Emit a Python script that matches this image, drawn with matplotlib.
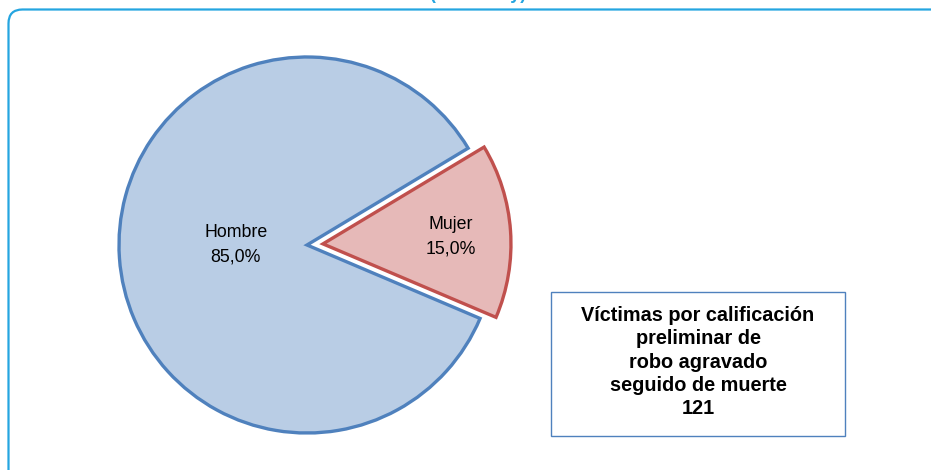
import matplotlib.pyplot as plt
from matplotlib.patches import FancyBboxPatch, Rectangle
import numpy as np

plt.rcParams['font.family'] = ['Liberation Sans', 'DejaVu Sans']

labels = ["Mujer", "Hombre"]
shares = [15.0, 85.0]
fills = ["#E6B9B8", "#B9CDE5"]
edges = ["#C0504D", "#4F81BD"]
box_text = "Víctimas por calificación\npreliminar de\nrobo agravado\nseguido de muerte\n121"
title = "(Ene - May)"

W, H = 931, 470
fig = plt.figure(figsize=(W / 100, H / 100), dpi=100)
ax = fig.add_axes([0, 0, 1, 1])
ax.set_xlim(0, W)
ax.set_ylim(0, H)
ax.set_aspect('equal')
ax.axis('off')

# outer rounded frame (cut at right and bottom)
frame = FancyBboxPatch((8.5, -40), W + 40, H - 9.5 + 40,
                       boxstyle="round,pad=0,rounding_size=14",
                       fill=False, edgecolor="#25A5E0", linewidth=1.6,
                       clip_on=False)
ax.add_patch(frame)

# title mostly off-canvas, only its bottom shows
ax.text(478, H + 1, title, ha='center', va='baseline', color="#25A5E0",
        fontsize=13, fontweight='bold', clip_on=False)

cx, cy, r = 307, H - 245, 188
# explode offset is in data units (pixels here)
wedges, _ = ax.pie(shares, explode=[16, 0], startangle=-23, counterclock=True,
                   center=(cx, cy), radius=r, colors=fills,
                   wedgeprops=dict(linewidth=2.4))
for w, e in zip(wedges, edges):
    w.set_edgecolor(e)
    w.set_joinstyle('miter')
ax.set_xlim(0, W)
ax.set_ylim(0, H)

# slice labels
for w, lab, val, dist, dy in zip(wedges, labels, shares, [0.68, 0.38], [-2, 5]):
    ang = np.deg2rad((w.theta1 + w.theta2) / 2)
    x0, y0 = w.center
    ax.text(x0 + dist * r * np.cos(ang), y0 + dist * r * np.sin(ang) + dy,
            f"{lab}\n{val:.1f}%".replace('.', ','), ha='center', va='center',
            fontsize=12.8, linespacing=1.55)

# info box
ax.add_patch(Rectangle((551, H - 436), 294, 144, fill=False,
                       edgecolor="#4F81BD", linewidth=1.0))
ax.text(698, H - 362, box_text, ha='center', va='center', fontsize=14.3,
        fontweight='bold', linespacing=1.27)

fig.savefig("out.png", dpi=100)
